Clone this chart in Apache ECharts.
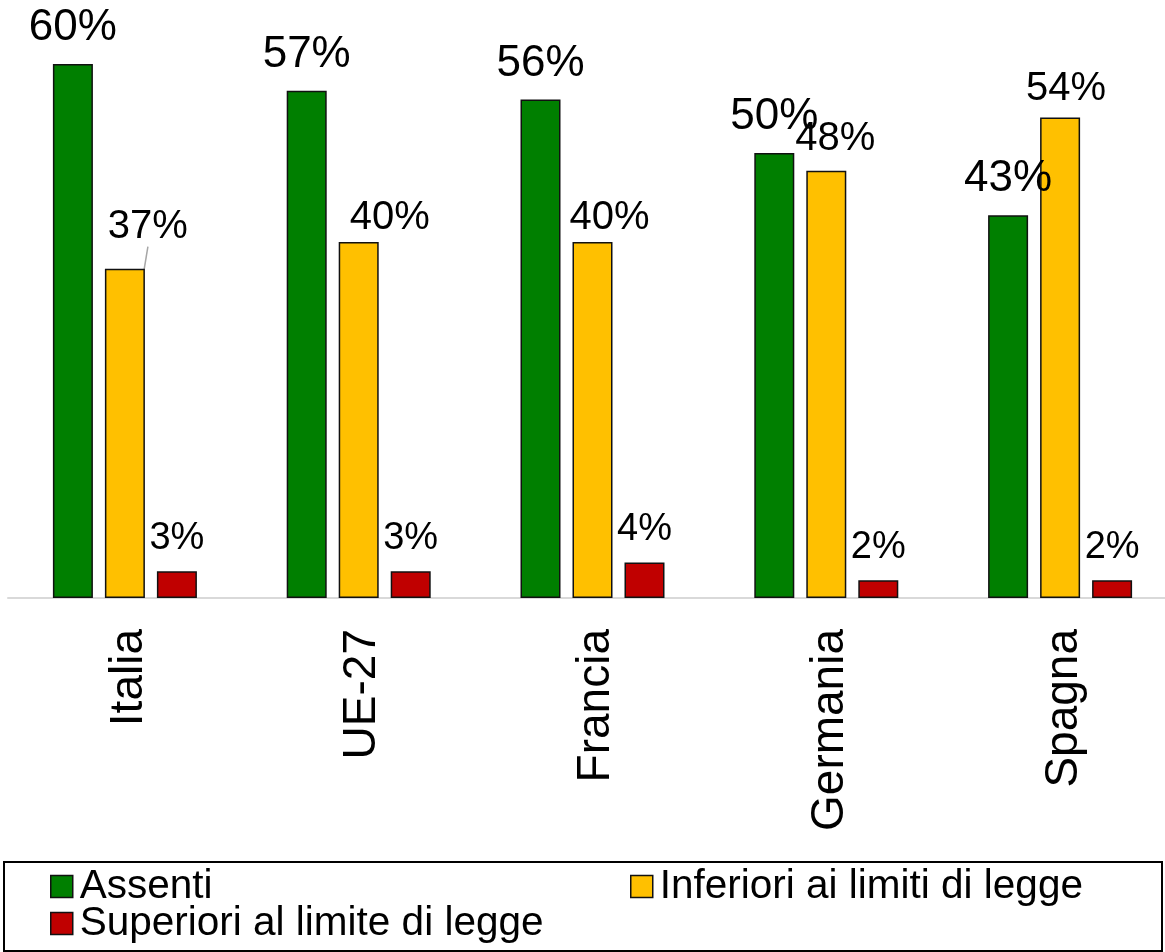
<!DOCTYPE html>
<html>
<head>
<meta charset="utf-8">
<title>Residui di pesticidi</title>
<script src="https://cdn.jsdelivr.net/npm/echarts@6/dist/echarts.min.js"></script>
<style>
  html, body { margin: 0; padding: 0; background: #ffffff; }
  #chart { width: 1165px; height: 952px; }
</style>
</head>
<body>
<div id="chart"></div>
<script>
// Countries on the x axis
const paesi = ['Italia', 'UE-27', 'Francia', 'Germania', 'Spagna'];

// Share of samples (%) in each class
const assenti = [60, 57, 56, 50, 43];
const inferiori = [37, 40, 40, 48, 54];
const superiori = [3, 3, 4, 2, 2];

// Series names shown in the legend
const nomiSerie = ['Assenti', 'Inferiori ai limiti di legge', 'Superiori al limite di legge'];

// Label nudges for the yellow series so the labels clear their neighbours
const spostamentoEtichetteGialle = [[23, -8], [31, 10], [17, 10], [9, 2], [6, 6]];

const FONT = '"Liberation Sans", Arial, Helvetica, sans-serif';
const COLORI = ['#007f00', '#ffc000', '#c00000'];

const chart = echarts.init(document.getElementById('chart'), null, { renderer: 'canvas' });

function serie(nome, valori, colore, fontSize, extra) {
  return Object.assign({
    name: nome,
    type: 'bar',
    barWidth: 40,
    barGap: '30%',
    itemStyle: { color: colore, borderColor: '#111', borderWidth: 1.5 },
    label: {
      show: true,
      position: 'top',
      distance: 14,
      fontFamily: FONT,
      fontSize: fontSize,
      color: '#000',
      formatter: p => p.value + '%'
    },
    data: valori.slice()
  }, extra || {});
}

// The first yellow label is pulled away from its bar, with a thin leader line
const datiGialli = inferiori.map((v, i) => i === 0
  ? { value: v, labelLine: { show: true, lineStyle: { color: '#a6a6a6', width: 1.5 } } }
  : { value: v });

function legenda(nome, left, top) {
  return {
    data: [nome], left: left, top: top, padding: 0,
    itemWidth: 22, itemHeight: 22, itemGap: 0,
    icon: 'rect',
    itemStyle: { borderColor: '#111', borderWidth: 1.5 },
    textStyle: { fontFamily: FONT, fontSize: 40.5, color: '#000', padding: [0, 0, 0, 2] }
  };
}

const option = {
  animation: false,
  backgroundColor: '#ffffff',
  grid: { left: 8, width: 1169, top: 19.5, bottom: 354, containLabel: false, outerBoundsMode: 'none' },
  xAxis: {
    type: 'category',
    data: paesi,
    axisLine: { lineStyle: { color: '#d9d9d9', width: 2 } },
    axisTick: { show: false },
    axisLabel: {
      rotate: 90,
      margin: 31,
      fontFamily: FONT,
      fontSize: 46,
      color: '#000',
      verticalAlign: 'top',
      lineHeight: 8
    }
  },
  yAxis: {
    type: 'value',
    min: 0,
    max: 65,
    show: false,
    splitLine: { show: false }
  },
  legend: [
    legenda(nomiSerie[0], 50, 866),
    legenda(nomiSerie[1], 630, 866),
    legenda(nomiSerie[2], 50, 903)
  ],
  graphic: [
    {
      type: 'rect',
      silent: true,
      shape: { x: 4, y: 862, width: 1158, height: 89 },
      style: { fill: 'none', stroke: '#000', lineWidth: 2 },
      z: 10
    }
  ],
  series: [
    serie(nomiSerie[0], assenti, COLORI[0], 44),
    serie(nomiSerie[1], inferiori, COLORI[1], 40, {
      data: datiGialli,
      labelLayout: function (p) {
        const s = spostamentoEtichetteGialle[p.dataIndex];
        return { dx: s[0], dy: s[1] };
      }
    }),
    serie(nomiSerie[2], superiori, COLORI[2], 38)
  ]
};

chart.setOption(option);
</script>
</body>
</html>
